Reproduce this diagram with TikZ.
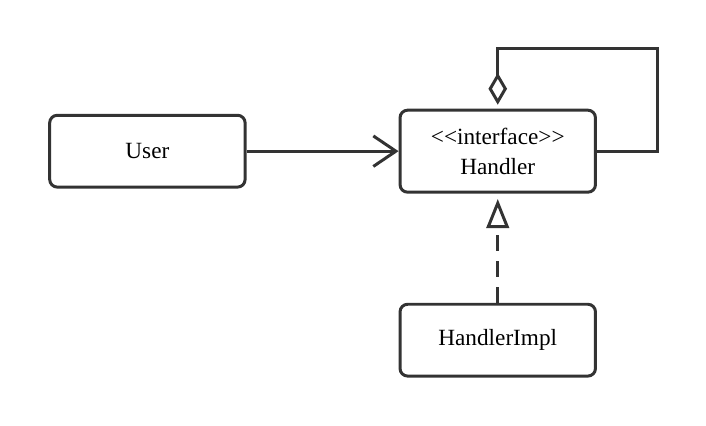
\documentclass[tikz,border=0pt]{standalone}
\usepackage{fontspec}
\setmainfont{Liberation Serif}
\usetikzlibrary{arrows.meta}
\definecolor{linegray}{HTML}{333333}
\begin{document}
\begin{tikzpicture}[
    node distance=5cm,
    cls/.style={rectangle, draw=linegray, line width=2.25pt, rounded corners=0.2cm, text width=4.8cm, align=center, minimum width=5.17cm, minimum height=1.9cm, font=\fontsize{17.5}{22.5}\selectfont},
    assoc/.style={-{Straight Barb[length=17pt, width=23pt]}, draw=linegray, line width=2.25pt},
    aggr/.style={{Diamond[open, length=24pt, width=14pt]}-, draw=linegray, line width=2.25pt, shorten <=3pt},
    real/.style={-{Triangle[open, length=22pt, width=17pt]}, draw=linegray, line width=2.25pt, dash pattern=on 12pt off 7.5pt, shorten >=4pt}
]
    \useasboundingbox (-3.90,-7.25) rectangle (14.78,4.0);
    \node[cls] (user) {User};
    \node[cls, right of=user, xshift=4.27cm, minimum height=2.17cm] (handler) {<\kern0pt<interface>\kern0pt>\\Handler};
    \node[cls, below of=handler] (impl) {HandlerImpl};

    \draw[assoc] (user) -- (handler);
    \draw[aggr] (handler.north) -- ++(0,1.59) -| ([xshift=1.59cm]handler.east) -- (handler.east);
    \draw[real] (impl) -- (handler);
\end{tikzpicture}
\end{document}
